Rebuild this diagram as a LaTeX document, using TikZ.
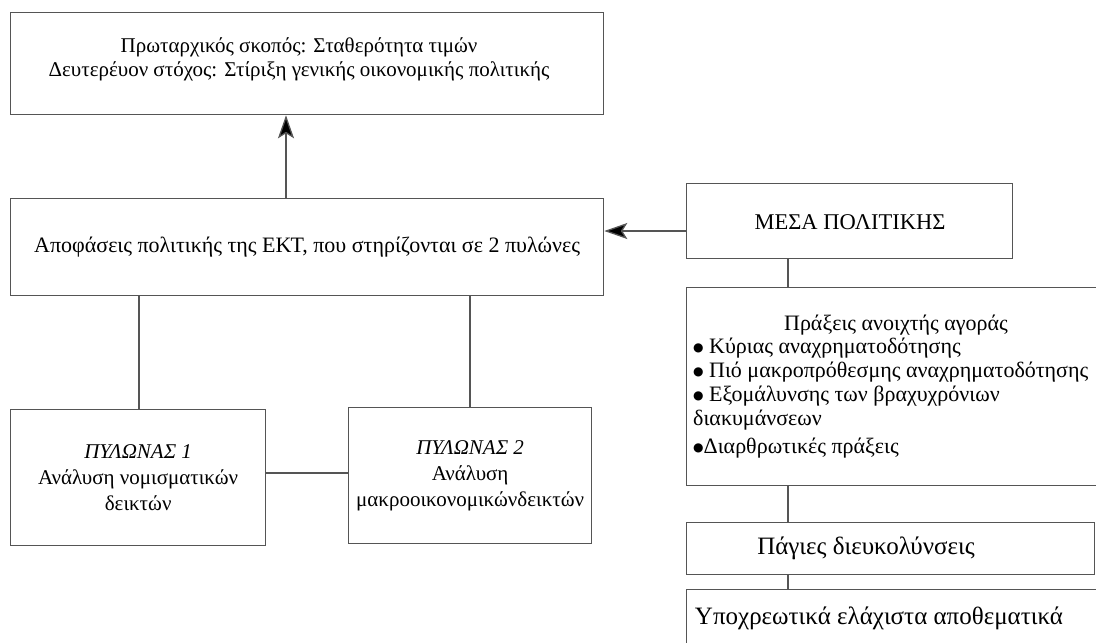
\documentclass[tikz,border=0pt]{standalone}
\usepackage{fontspec}
\setmainfont{Liberation Serif}
\newfontfamily\symfont{DejaVu Sans}
\usetikzlibrary{arrows.meta}
\definecolor{linecol}{RGB}{85,85,85}
\newcommand\mybul{\raisebox{2.5pt}{\symfont\fontsize{12}{12}\selectfont ●}}
\begin{document}
\begin{tikzpicture}[x=1pt,y=-1pt,
  box/.style={draw=linecol, line width=1.3pt, inner sep=0pt, anchor=north west, align=center,
    font=\fontsize{21}{26}\selectfont},
  txt/.style={inner sep=0pt, font=\fontsize{22}{24}\selectfont},
  bigtxt/.style={inner sep=0pt, font=\fontsize{25}{28}\selectfont},
  conn/.style={draw=linecol, line width=1.3pt},
  arr/.style={conn, -{Stealth[length=23pt, width=16pt, inset=5pt, fill=black]}}]
\clip (0,0) rectangle (1096,643);
\fill[white] (0,0) rectangle (1096,643);
% boxes
\node[box, minimum width=593pt, minimum height=102pt] (goal) at (10,12) {};
\node[box, minimum width=593pt, minimum height=97pt, font=\fontsize{22}{26}\selectfont] (dec) at (10,198)
  {Αποφάσεις πολιτικής της ΕΚΤ, που στηρίζονται σε 2 πυλώνες};
\node[box, minimum width=326pt, minimum height=75pt] (mesa) at (686,183) {};
\node[box, minimum width=424pt, minimum height=198pt] (prax) at (686,287) {};
\node[box, minimum width=408pt, minimum height=52pt] (pag) at (686,522) {};
\node[box, minimum width=424pt, minimum height=80pt] (ypo) at (686,589) {};
\node[box, minimum width=255pt, minimum height=136pt] (p1) at (10,409)
  {\textit{ΠΥΛΩΝΑΣ 1}\\Ανάλυση νομισματικών\\δεικτών};
\node[box, minimum width=243pt, minimum height=136pt] (p2) at (348,407)
  {\textit{ΠΥΛΩΝΑΣ 2}\\Ανάλυση\\μακροοικονομικώνδεικτών};
% texts placed in boxes
\node[txt, align=center, font=\fontsize{21}{24}\selectfont] (goaltext) at (299,59)
  {Πρωταρχικός σκοπός: Σταθερότητα τιμών\\Δευτερέυον στόχος: Στίριξη γενικής οικονομικής πολιτικής};
\node[txt, font=\fontsize{22.5}{26}\selectfont] (mesatext) at (850,222) {ΜΕΣΑ ΠΟΛΙΤΙΚΗΣ};
\node[txt] (praxtitle) at (896,325) {Πράξεις ανοιχτής αγοράς};
\node[txt, anchor=north west, align=left] (praxlist) at (693,338)
  {\mybul{} Κύριας αναχρηματοδότησης\\\mybul{} Πιό μακροπρόθεσμης αναχρηματοδότησης\\\mybul{} Εξομάλυνσης των βραχυχρόνιων\\διακυμάνσεων\\[4pt]\mybul Διαρθρωτικές πράξεις};
\node[bigtxt] (pagtext) at (866,548) {Πάγιες διευκολύνσεις};
\node[bigtxt] (ypotext) at (879,618) {Υποχρεωτικά ελάχιστα αποθεματικά};
% connectors
\draw[arr] (dec.north -| 286,0) -- (goal.south -| 286,0);
\draw[arr] (mesa.west |- 0,231) -- (dec.east |- 0,231);
\draw[conn] (mesa.south -| 788,0) -- (prax.north -| 788,0);
\draw[conn] (prax.south -| 788,0) -- (pag.north -| 788,0);
\draw[conn] (pag.south -| 788,0) -- (ypo.north -| 788,0);
\draw[conn] (dec.south -| 139,0) -- (p1.north -| 139,0);
\draw[conn] (dec.south -| 470,0) -- (p2.north -| 470,0);
\draw[conn] (p1.east |- 0,473) -- (p2.west |- 0,473);
\end{tikzpicture}
\end{document}
